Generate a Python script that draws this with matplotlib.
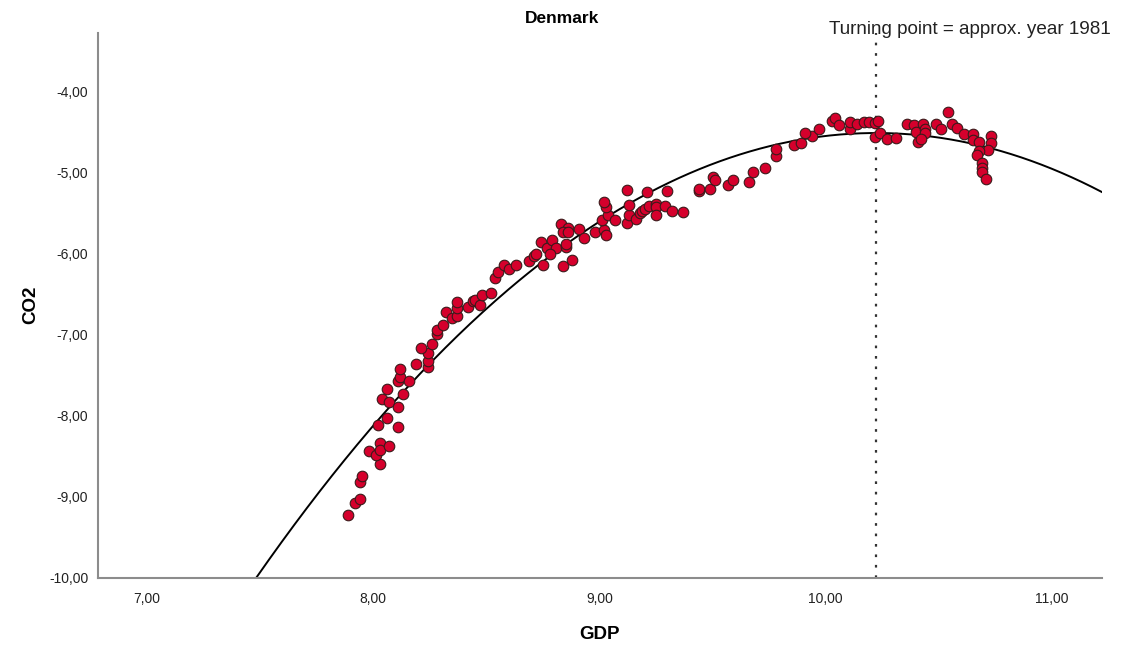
import numpy as np
import matplotlib
matplotlib.use("Agg")
import matplotlib.pyplot as plt
from matplotlib.ticker import FuncFormatter

plt.rcParams['font.family'] = ['Liberation Sans', 'DejaVu Sans']

# log GDP per capita vs log CO2 per capita, Denmark
gdp = [7.89, 7.92, 7.94, 7.94, 7.95, 8.03, 7.98, 8.01, 8.03, 8.03,
       8.07, 8.11, 8.02, 8.06, 8.04, 8.07, 8.11, 8.06, 8.13, 8.11,
       8.12, 8.12, 8.16, 8.19, 8.24, 8.24, 8.24, 8.21, 8.26, 8.28,
       8.28, 8.31, 8.32, 8.35, 8.37, 8.37, 8.37, 8.42, 8.44, 8.45,
       8.47, 8.48, 8.52, 8.54, 8.55, 8.58, 8.60, 8.63, 8.69, 8.71,
       8.72, 8.75, 8.74, 8.77, 8.79, 8.81, 8.78, 8.85, 8.85, 8.84,
       8.88, 8.83, 8.86, 8.84, 8.86, 8.91, 8.93, 8.98, 9.02, 9.03,
       9.01, 9.04, 9.03, 9.02, 9.07, 9.12, 9.13, 9.13, 9.12, 9.16,
       9.18, 9.19, 9.20, 9.22, 9.25, 9.25, 9.25, 9.29, 9.32, 9.37,
       9.21, 9.30, 9.44, 9.44, 9.49, 9.50, 9.51, 9.57, 9.59, 9.66,
       9.68, 9.73, 9.78, 9.78, 9.86, 9.89, 9.94, 9.91, 9.97, 10.03,
       10.04, 10.06, 10.11, 10.11, 10.14, 10.17, 10.19, 10.22, 10.22, 10.23,
       10.24, 10.27, 10.31, 10.36, 10.39, 10.40, 10.43, 10.44, 10.44, 10.41,
       10.42, 10.49, 10.51, 10.54, 10.56, 10.58, 10.61, 10.65, 10.65, 10.68,
       10.73, 10.73, 10.72, 10.68, 10.67, 10.69, 10.69, 10.69, 10.71]
co2 = [-9.22, -9.08, -9.02, -8.82, -8.74, -8.59, -8.44, -8.48, -8.34, -8.42,
       -8.37, -8.14, -8.11, -8.03, -7.79, -7.83, -7.89, -7.67, -7.73, -7.57,
       -7.52, -7.42, -7.57, -7.36, -7.40, -7.33, -7.22, -7.16, -7.12, -6.99,
       -6.94, -6.88, -6.72, -6.79, -6.77, -6.67, -6.60, -6.66, -6.59, -6.57,
       -6.63, -6.51, -6.49, -6.30, -6.23, -6.14, -6.19, -6.14, -6.09, -6.03,
       -6.00, -6.14, -5.86, -5.93, -5.83, -5.93, -6.01, -5.92, -5.88, -6.15,
       -6.08, -5.63, -5.68, -5.74, -5.73, -5.70, -5.81, -5.73, -5.71, -5.77,
       -5.58, -5.52, -5.43, -5.36, -5.59, -5.62, -5.52, -5.40, -5.21, -5.57,
       -5.50, -5.48, -5.45, -5.41, -5.39, -5.42, -5.52, -5.41, -5.47, -5.49,
       -5.24, -5.23, -5.23, -5.20, -5.20, -5.06, -5.09, -5.16, -5.09, -5.12,
       -4.99, -4.94, -4.80, -4.71, -4.66, -4.64, -4.55, -4.51, -4.47, -4.36,
       -4.33, -4.42, -4.47, -4.38, -4.40, -4.38, -4.38, -4.39, -4.56, -4.37,
       -4.51, -4.59, -4.57, -4.40, -4.42, -4.50, -4.40, -4.47, -4.51, -4.62,
       -4.59, -4.40, -4.47, -4.25, -4.40, -4.45, -4.52, -4.52, -4.60, -4.63,
       -4.55, -4.64, -4.72, -4.73, -4.78, -4.88, -4.95, -5.00, -5.08]

# quadratic fit: co2 = b0 + b1*gdp + b2*gdp^2
fit_coef = [-80.81, 14.926, -0.73]
turning_year = 1981

fig = plt.figure(figsize=(11.24, 6.49), dpi=100)
ax = fig.add_axes([0.0872, 0.1094, 0.8932, 0.8398])

ax.set_xlim(6.783, 11.222)
ax.set_ylim(-10, -3.28)

xs = np.linspace(6.783, 11.222, 400)
ys = fit_coef[0] + fit_coef[1] * xs + fit_coef[2] * xs ** 2
ax.plot(xs, ys, color='black', lw=1.4, zorder=2)

turn_x = -fit_coef[1] / (2 * fit_coef[2])
ax.axvline(turn_x, color='#333333', lw=1.6, linestyle=(0, (1.2, 3.5)),
           zorder=1, clip_on=False)

ax.scatter(gdp, co2, s=58, facecolor='#d5002c', edgecolor='#3a1a1a',
           linewidths=0.8, zorder=3)

for side in ['top', 'right']:
    ax.spines[side].set_visible(False)
for side in ['left', 'bottom']:
    ax.spines[side].set_color('#8c8c8c')
    ax.spines[side].set_linewidth(1.5)

ax.set_xticks([7, 8, 9, 10, 11])
ax.set_yticks([-10, -9, -8, -7, -6, -5, -4])
fmt = FuncFormatter(lambda v, p: f'{v:.2f}'.replace('.', ','))
ax.xaxis.set_major_formatter(fmt)
ax.yaxis.set_major_formatter(fmt)
ax.tick_params(axis='both', length=0, labelsize=10, colors='#222222')
ax.tick_params(axis='x', pad=10)
ax.tick_params(axis='y', pad=7)

fig.text(0.5, 0.972, 'Denmark', ha='center', va='center',
         fontsize=12.5, fontweight='bold')
fig.text(0.7376, 0.9538, f'Turning point = approx. year {turning_year}',
         ha='left', va='center', fontsize=13.6, color='#222222')
fig.text(0.5338, 0.023, 'GDP', ha='center', va='center',
         fontsize=13.5, fontweight='bold')
fig.text(0.027, 0.53, 'CO2', ha='center', va='center', rotation=90,
         fontsize=13.5, fontweight='bold')

fig.savefig('out.png', dpi=100)
